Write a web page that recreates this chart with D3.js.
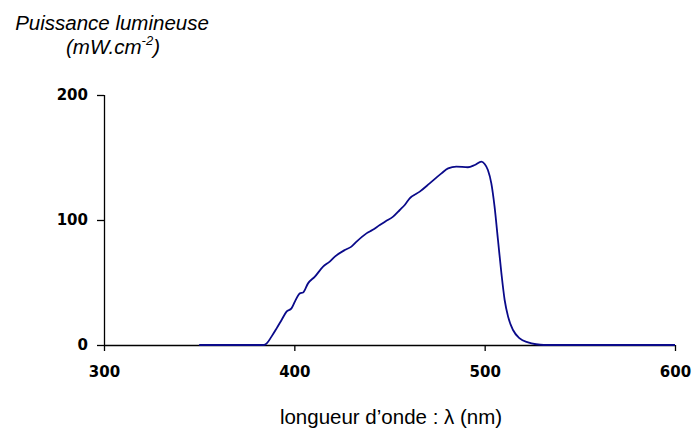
<!DOCTYPE html>
<html>
<head>
<meta charset="utf-8">
<script src="https://cdn.jsdelivr.net/npm/d3@7"></script>
<style>
  html, body { margin: 0; padding: 0; background: #fff; }
  svg { display: block; font-family: "Liberation Sans", Arial, sans-serif; }
</style>
</head>
<body>
<svg id="chart" width="694" height="430"></svg>
<script>
// Emission spectrum: wavelength (nm) and light power (mW.cm-2)
const wavelength = [350, 370, 380, 384, 385.5, 388, 390.7, 393.3, 395.9, 398.5, 400.3, 402.9, 404.6, 407.2, 410.8, 415.1, 418.6, 421.3, 426.5, 430, 432.7, 437.9, 441, 444.9, 448, 451.9, 455.4, 458, 460.6, 465.9, 471.1, 477.3, 480.8, 485.1, 491.2, 494.8, 498.3, 500, 501.7, 503.5, 505.2, 507, 508.8, 510.5, 512.3, 514.9, 518.4, 522.8, 527, 531, 540, 560, 580, 600];
const power = [0, 0, 0, 0, 1.3, 6.7, 13.3, 20, 26.7, 29.3, 34.7, 41.3, 42, 49.3, 54.7, 62.7, 66.7, 70.7, 76, 78.7, 82.7, 89.3, 92, 96, 99, 102.7, 108, 112, 117.3, 122.7, 129.3, 137.3, 141.3, 142.7, 142.2, 144, 146.7, 144.8, 140, 129.3, 110.7, 84, 57.3, 36, 22.7, 12, 5.3, 2.1, 0.6, 0, 0, 0, 0, 0];

const xTicks = [300, 400, 500, 600];
const yTicks = [0, 100, 200];

const svg = d3.select("#chart");
const x = d3.scaleLinear().domain([300, 600]).range([104, 675]);
const y = d3.scaleLinear().domain([0, 200]).range([345, 95]);

const tickFont = '"DejaVu Sans", Verdana, sans-serif';

// X axis
const xAxis = svg.append("g")
  .attr("transform", `translate(0,${y(0)})`)
  .call(d3.axisBottom(x).tickValues(xTicks).tickSize(6).tickPadding(15).tickFormat(d3.format("d")));
xAxis.select(".domain").attr("d", `M${x(300)},0.5H${x(600)}`);

// Y axis
const yAxis = svg.append("g")
  .attr("transform", `translate(${x(300)},0)`)
  .call(d3.axisLeft(y).tickValues(yTicks).tickSize(7).tickPadding(9).tickFormat(d3.format("d")));
yAxis.select(".domain").attr("d", `M0.5,${y(200)}V${y(0)}`);

svg.selectAll(".domain, .tick line").attr("stroke", "#000").attr("stroke-width", 1.3);
svg.selectAll(".tick text")
  .attr("fill", "#000")
  .style("font-family", tickFont)
  .style("font-size", "15px")
  .style("font-weight", "bold");

// Spectrum curve
svg.append("path")
  .datum(wavelength.map((w, i) => [w, power[i]]))
  .attr("fill", "none")
  .attr("stroke", "#0a0a8a")
  .attr("stroke-width", 1.8)
  .attr("stroke-linejoin", "round")
  .attr("d", d3.line().x(d => x(d[0])).y(d => y(d[1])).curve(d3.curveMonotoneX));

// Y axis title
svg.append("text")
  .attr("x", 112).attr("y", 30)
  .attr("text-anchor", "middle")
  .style("font-size", "20.5px").style("font-style", "italic")
  .text("Puissance lumineuse");

const unit = svg.append("text")
  .attr("x", 113).attr("y", 53.5)
  .attr("text-anchor", "middle")
  .style("font-size", "20.5px").style("font-style", "italic");
unit.append("tspan").text("(mW.cm");
unit.append("tspan").attr("dy", -9).style("font-size", "13px").text("-2");
unit.append("tspan").attr("dy", 9).text(")");

// X axis title
svg.append("text")
  .attr("x", 391).attr("y", 424)
  .attr("text-anchor", "middle")
  .style("font-size", "20.5px")
  .text("longueur d\u2019onde : \u03bb (nm)");
</script>
</body>
</html>
